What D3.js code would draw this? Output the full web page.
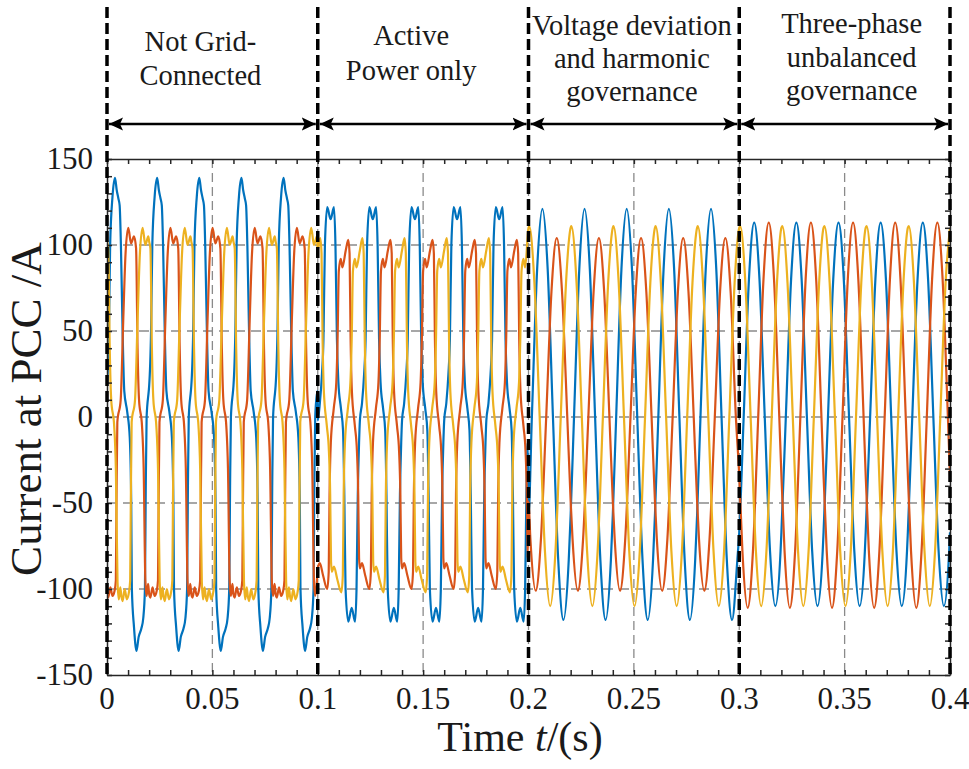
<!DOCTYPE html>
<html>
<head>
<meta charset="utf-8">
<script src="https://cdn.jsdelivr.net/npm/d3@7"></script>
<style>
  body { margin: 0; background: #fff; }
  text { font-family: "Liberation Serif", "Times New Roman", serif; fill: #1a1a1a; }
</style>
</head>
<body>
<div id="chart"></div>
<script>
// operating modes (time axis in s)
var segStarts = [0, 0.1, 0.2, 0.3];
var segLabels = [
  ["Not Grid-", "Connected"],
  ["Active", "Power only"],
  ["Voltage deviation", "and harmonic", "governance"],
  ["Three-phase", "unbalanced", "governance"]
];
var cyclesPerSeg = 5; // 50 Hz, 0.02 s per cycle

var xTicks = [0, 0.05, 0.1, 0.15, 0.2, 0.25, 0.3, 0.35, 0.4];
var yTicks = [150, 100, 50, 0, -50, -100, -150];

// one cycle of each phase current, [ms within the cycle, A]
var seg1Blue = [[0,18],[0.9,50],[1.5,100],[2.6,128],[3.8,139],[4.6,132],[5.4,127],[6.0,123],[6.6,100],[7.4,50],[8.2,15],[9.6,3],[10.8,-12],[11.5,-50],[11.8,-100],[12.8,-122],[14.0,-136],[15.0,-128],[16.3,-123],[17.2,-117],[18.0,-100],[18.4,-40],[18.8,0],[19.8,15],[20,18]];
var seg1Red = [[0,-103],[0.6,-105],[1.6,-99],[2.6,-104],[3.6,-101],[4.2,-95],[4.5,-50],[4.9,-3],[6.5,10],[7.7,56],[8.8,95],[10.1,110],[11.4,101],[12.8,105],[13.8,98],[14.5,40],[15.2,10],[16.6,-5],[17.4,-30],[18.2,-95],[18.8,-104],[19.5,-97],[20,-103]];
var seg1Yellow = [[0,102],[0.6,98],[1.3,40],[2.0,10],[3.4,-5],[4.2,-30],[5.0,-96],[5.6,-106],[6.3,-99],[6.8,-104],[7.4,-107],[8.4,-100],[9.4,-106],[10.4,-102],[11.0,-95],[11.3,-50],[11.7,-3],[13.3,10],[14.5,56],[15.6,95],[16.9,110],[18.2,100],[19.6,105],[20,102]];

var seg2Blue = [[0,-2],[1.0,8],[2.0,25],[2.7,45],[3.4,100],[4.5,122],[6.1,115],[7.7,122],[8.4,100],[9.1,45],[9.8,20],[11.0,5],[12.0,-8],[12.6,-45],[13.2,-100],[14.5,-119],[16.1,-111],[17.7,-119],[18.4,-100],[19.0,-45],[19.6,-15],[20,-2]];
var seg2Red = [[0,-88],[1.0,-85],[2.5,-92],[4.5,-100],[5.2,-90],[5.6,-45],[6.2,-15],[7.6,5],[8.8,20],[9.4,45],[10.0,85],[10.9,92],[11.7,87],[13.3,97],[14.5,103],[15.1,95],[15.6,45],[16.2,15],[17.6,-5],[18.6,-20],[19.2,-45],[19.6,-82],[20,-88]];
var seg2Yellow = [[0,97],[1.2,104],[1.8,95],[2.3,45],[2.9,15],[4.3,-5],[5.3,-20],[5.9,-45],[6.3,-84],[6.7,-90],[7.7,-87],[9.2,-94],[11.2,-102],[11.9,-92],[12.3,-45],[12.9,-15],[14.3,5],[15.5,20],[16.1,45],[16.7,85],[17.6,92],[18.4,87],[20,97]];

var seg3Blue = [[0,-57],[1.6,0],[4.1,86],[6.6,121],[9.1,86],[11.6,0],[14.1,-83],[16.6,-118],[19.1,-83],[20,-57]];
var seg3Red = [[0,-49],[0.9,-71],[3.4,-101],[5.9,-71],[8.4,0],[10.9,73],[13.4,104],[15.9,73],[18.4,0],[20,-49]];
var seg3Yellow = [[0,110],[0.3,111],[2.8,78],[5.3,0],[7.8,-78],[10.3,-110],[12.8,-78],[15.3,0],[17.8,78],[20,110]];

var seg4Blue = [[0,-67],[2.1,0],[4.6,80],[7.1,113],[9.6,80],[12.1,0],[14.6,-78],[17.1,-110],[19.6,-78],[20,-67]];
var seg4Red = [[0,-34],[1.5,-78],[4.0,-111],[6.5,-78],[9.0,0],[11.5,80],[14.0,113],[16.5,80],[19.0,0],[20,-34]];
var seg4Yellow = [[0,110],[0.4,111],[2.9,78],[5.4,0],[7.9,-78],[10.4,-110],[12.9,-78],[15.4,0],[17.9,78],[20,110]];

var phases = [
  { color: "#0072BD", segs: [seg1Blue, seg2Blue, seg3Blue, seg4Blue] },
  { color: "#D95319", segs: [seg1Red, seg2Red, seg3Red, seg4Red] },
  { color: "#EDB120", segs: [seg1Yellow, seg2Yellow, seg3Yellow, seg4Yellow] }
];

// layout
var W = 969, H = 769;
var pLeft = 107, pRight = 950, pTop = 159, pBottom = 675;

var svg = d3.select("#chart").append("svg")
  .attr("width", W).attr("height", H);

var x = d3.scaleLinear().domain([0, 0.4]).range([pLeft, pRight]);
var y = d3.scaleLinear().domain([-150, 150]).range([pBottom, pTop]);

// grid
var grid = svg.append("g").attr("stroke", "#8a8a8a").attr("stroke-width", 1.6)
  .attr("stroke-dasharray", "10,6").attr("fill", "none");
grid.selectAll(".gy").data([-100, -50, 0, 50, 100]).enter().append("line")
  .attr("x1", pLeft).attr("x2", pRight)
  .attr("y1", function (d) { return y(d); }).attr("y2", function (d) { return y(d); });
grid.selectAll(".gx").data([0.05, 0.1, 0.15, 0.2, 0.25, 0.3, 0.35]).enter().append("line")
  .attr("stroke-width", 1.3)
  .attr("stroke-dasharray", "9,5")
  .attr("x1", function (d) { return x(d); }).attr("x2", function (d) { return x(d); })
  .attr("y1", pTop).attr("y2", pBottom);

// build each phase from its cycle samples
function buildSeries(segs) {
  var pts = [];
  segs.forEach(function (knots, s) {
    for (var k = 0; k < cyclesPerSeg; k++) {
      knots.forEach(function (p) {
        var last = s === segs.length - 1 && k === cyclesPerSeg - 1;
        if (p[0] === 20 && !last) return;
        pts.push([segStarts[s] + k * 0.02 + p[0] / 1000, p[1]]);
      });
    }
  });
  return pts;
}

svg.append("clipPath").attr("id", "clip").append("rect")
  .attr("x", pLeft).attr("y", pTop).attr("width", pRight - pLeft).attr("height", pBottom - pTop);

var line = d3.line()
  .x(function (d) { return x(d[0]); })
  .y(function (d) { return y(d[1]); })
  .curve(d3.curveMonotoneX);

var waves = svg.append("g").attr("clip-path", "url(#clip)");
phases.forEach(function (ph) {
  waves.append("path")
    .datum(buildSeries(ph.segs))
    .attr("fill", "none")
    .attr("stroke", ph.color)
    .attr("stroke-width", 2.2)
    .attr("stroke-linejoin", "round")
    .attr("d", line);
});

// frame and inward ticks
var axisColor = "#262626";
var minorX = d3.range(0, 41).map(function (i) { return i / 100; });
var minorY = d3.range(-15, 16).map(function (i) { return i * 10; });

svg.append("g").attr("transform", "translate(0," + pBottom + ")")
  .call(d3.axisBottom(x).tickValues(minorX).tickSize(-5).tickSizeOuter(0).tickFormat(""));
svg.append("g").attr("transform", "translate(0," + pTop + ")")
  .call(d3.axisTop(x).tickValues(minorX).tickSize(-5).tickSizeOuter(0).tickFormat(""));
svg.append("g").attr("transform", "translate(" + pLeft + ",0)")
  .call(d3.axisLeft(y).tickValues(minorY).tickSize(-5).tickSizeOuter(0).tickFormat(""));
svg.append("g").attr("transform", "translate(" + pRight + ",0)")
  .call(d3.axisRight(y).tickValues(minorY).tickSize(-5).tickSizeOuter(0).tickFormat(""));
svg.selectAll(".domain, .tick line").attr("stroke", axisColor).attr("stroke-width", 1.5);

// tick labels
svg.selectAll(".xlab").data(xTicks).enter().append("text")
  .attr("x", function (d) { return x(d); })
  .attr("y", 709)
  .attr("text-anchor", "middle")
  .style("font-size", "31px")
  .text(function (d) { return String(+d.toFixed(2)); });

svg.selectAll(".ylab").data(yTicks).enter().append("text")
  .attr("x", 93)
  .attr("y", function (d) { return y(d) + 10; })
  .attr("text-anchor", "end")
  .style("font-size", "31px")
  .text(function (d) { return d < 0 ? "-" + Math.abs(d) : String(d); });

// axis titles
var xt = svg.append("text")
  .attr("x", 520).attr("y", 751)
  .attr("text-anchor", "middle")
  .style("font-size", "42px");
xt.append("tspan").text("Time ");
xt.append("tspan").style("font-style", "italic").text("t");
xt.append("tspan").text("/(s)");

svg.append("text")
  .attr("transform", "translate(41," + ((pTop + pBottom) / 2 - 8) + ") rotate(-90)")
  .attr("text-anchor", "middle")
  .style("font-size", "45px")
  .text("Current at PCC /A");

// mode separators, arrows and labels
var defs = svg.append("defs");
defs.append("marker")
  .attr("id", "head")
  .attr("viewBox", "0 0 14 14")
  .attr("refX", 14).attr("refY", 7)
  .attr("markerWidth", 14).attr("markerHeight", 14)
  .attr("markerUnits", "userSpaceOnUse")
  .attr("orient", "auto-start-reverse")
  .append("path")
  .attr("d", "M0,0.5 L14,7 L0,13.5 L3,7 Z")
  .attr("fill", "#000");

var bounds = segStarts.concat([0.4]);
svg.selectAll(".sep").data(bounds).enter().append("line")
  .attr("x1", function (d) { return x(d); }).attr("x2", function (d) { return x(d); })
  .attr("y1", 7).attr("y2", pBottom)
  .attr("stroke", "#000").attr("stroke-width", 3.5)
  .attr("stroke-dasharray", "11,5");

var arrowY = 124;
segStarts.forEach(function (s, i) {
  svg.append("line")
    .attr("x1", x(s) + 2).attr("x2", x(bounds[i + 1]) - 2)
    .attr("y1", arrowY).attr("y2", arrowY)
    .attr("stroke", "#000").attr("stroke-width", 2.7)
    .attr("marker-start", "url(#head)")
    .attr("marker-end", "url(#head)");
});

var labelDx = [-12, -12, -2, 7];
var labelBase = [[51, 85], [45, 80], [35, 68, 101], [33, 67, 100]];
segLabels.forEach(function (lines, i) {
  var cx = x(segStarts[i] + 0.05) + labelDx[i];
  lines.forEach(function (t, j) {
    svg.append("text")
      .attr("x", cx).attr("y", labelBase[i][j])
      .attr("text-anchor", "middle")
      .style("font-size", "28.5px")
      .text(t);
  });
});
</script>
</body>
</html>
